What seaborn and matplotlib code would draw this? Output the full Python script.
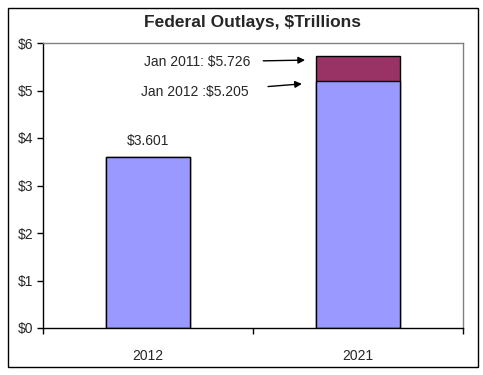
import matplotlib
matplotlib.use('Agg')
import matplotlib.pyplot as plt
import seaborn as sns
import pandas as pd
from matplotlib.patches import Rectangle
from matplotlib.ticker import FixedLocator

# values ($ trillions)
years = ['2012', '2021']
outlays_2012_est = [3.601, 5.205]   # Jan 2012 estimate
outlays_2011_est = [3.601, 5.726]   # Jan 2011 estimate
label_2012 = '$3.601'
note_2011 = 'Jan 2011: $5.726'
note_2012 = 'Jan 2012 :$5.205'

sns.set_style('white')
plt.rcParams['font.family'] = ['Liberation Sans', 'DejaVu Sans']

df = pd.DataFrame({'year': years, 'jan2012': outlays_2012_est, 'jan2011': outlays_2011_est})

fig = plt.figure(figsize=(4.83, 3.75), dpi=100)
ax = fig.add_axes([43/483, 47/375, 420/483, 285/375])

# taller bar first, then the lower estimate drawn over it
sns.barplot(x='year', y='jan2011', data=df, color='#993366', width=0.4,
            edgecolor='black', linewidth=1, saturation=1, ax=ax)
sns.barplot(x='year', y='jan2012', data=df, color='#9999FF', width=0.4,
            edgecolor='black', linewidth=1, saturation=1, ax=ax)

ax.set_xlim(-0.5, 1.5)
ax.set_ylim(0, 6)
ax.set_yticks(range(0, 7))
ax.set_yticklabels(['$%d' % v for v in range(0, 7)], fontsize=10)
ax.tick_params(axis='y', direction='out', length=4, width=1, color='black', left=True, pad=3)
ax.tick_params(axis='x', which='major', length=0, labelsize=10, pad=15)
ax.xaxis.set_minor_locator(FixedLocator([-0.5, 0.5, 1.5]))
ax.tick_params(axis='x', which='minor', direction='out', length=4, width=1, color='black', bottom=True)
ax.set_xlabel('')
ax.set_ylabel('')

for side in ['left', 'bottom']:
    ax.spines[side].set_color('black')
    ax.spines[side].set_linewidth(1)
for side in ['top', 'right']:
    ax.spines[side].set_color('#808080')
    ax.spines[side].set_linewidth(1)

ax.text(0, outlays_2012_est[0] + 0.18, label_2012, ha='center', va='bottom', fontsize=10)

ax.annotate(note_2011, xy=(0.748, 5.64), xytext=(0.487, 5.60),
            ha='right', va='center', fontsize=10,
            arrowprops=dict(arrowstyle='-|>', color='black', lw=1, mutation_scale=10,
                            shrinkA=7, shrinkB=0))
ax.annotate(note_2012, xy=(0.733, 5.14), xytext=(0.477, 4.96),
            ha='right', va='center', fontsize=10,
            arrowprops=dict(arrowstyle='-|>', color='black', lw=1, mutation_scale=10,
                            shrinkA=12, shrinkB=0))

fig.text(253/483, 1 - 22/375, 'Federal Outlays, $Trillions', ha='center', va='center',
         fontsize=12.5, fontweight='bold')

# outer chart frame
fig.patches.append(Rectangle((8/483, 8/375), 470/483, 359/375, transform=fig.transFigure,
                             fill=False, edgecolor='black', linewidth=1))

fig.savefig('out.png', dpi=100)
